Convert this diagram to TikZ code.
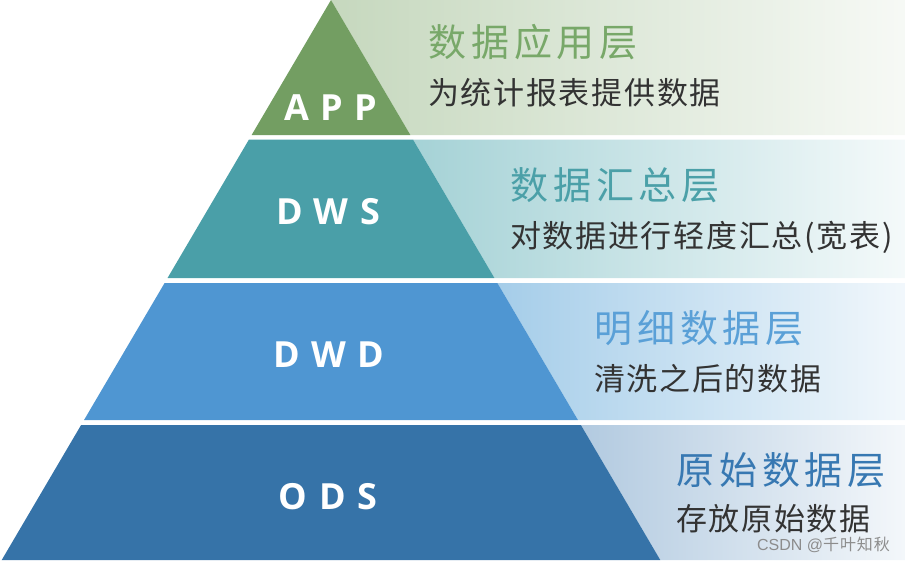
\documentclass[tikz,border=0pt]{standalone}
\usepackage{fontspec}
\newfontfamily\cjk[LetterSpace=5.5]{Noto Sans CJK SC}
\newfontfamily\cjkwide[LetterSpace=13]{Noto Sans CJK SC}
\newfontfamily\labfont[LetterSpace=32]{Open Sans}
\usetikzlibrary{positioning}
\definecolor{appC}{RGB}{115,158,98}
\definecolor{dwsC}{RGB}{74,159,168}
\definecolor{dwdC}{RGB}{79,150,210}
\definecolor{odsC}{RGB}{54,115,168}
\definecolor{appT}{RGB}{120,168,105}
\definecolor{dwsT}{RGB}{75,160,168}
\definecolor{dwdT}{RGB}{90,160,215}
\definecolor{odsT}{RGB}{55,120,178}
\definecolor{appL}{RGB}{198,216,190}
\definecolor{dwsL}{RGB}{165,210,214}
\definecolor{dwdL}{RGB}{165,205,233}
\definecolor{odsL}{RGB}{178,202,224}
\definecolor{textC}{RGB}{51,51,51}
\tikzset{
    title/.style={anchor=west, inner sep=0pt, font=\cjkwide\fontsize{38}{40}\selectfont},
    desc/.style={inner sep=0pt, text=textC, font=\cjk\fontsize{31}{33}\selectfont},
    tag/.style={inner sep=0pt, text=white, font=\labfont\bfseries\fontsize{36}{38}\selectfont},
}
\begin{document}
\begin{tikzpicture}[x=1pt, y=-1pt]
    \useasboundingbox (0,0) rectangle (905,560);

    % colour fades behind the text
    \shade[left color=appL, right color=appL!15] (331,0) -- (905,0) -- (905,135) -- ({331+0.588*135},135) -- cycle;
    \shade[left color=dwsL, right color=dwsL!12] ({331+0.588*139.5},139.5) -- (905,139.5) -- (905,278) -- ({331+0.588*278},278) -- cycle;
    \shade[left color=dwdL, right color=dwdL!15] ({331+0.588*283},283) -- (905,283) -- (905,420) -- ({331+0.588*420},420) -- cycle;
    \shade[left color=odsL, right color=odsL!15] ({331+0.588*425},425) -- (905,425) -- (905,560) -- ({331+0.588*560},560) -- cycle;

    % pyramid
    \fill[appC] (331,0) -- ({331+0.588*135},135) -- ({331-0.588*135},135) -- cycle;
    \fill[dwsC] ({331-0.588*139.5},139.5) -- ({331+0.588*139.5},139.5) -- ({331+0.588*278},278) -- ({331-0.588*278},278) -- cycle;
    \fill[dwdC] ({331-0.588*283},283) -- ({331+0.588*283},283) -- ({331+0.588*420},420) -- ({331-0.588*420},420) -- cycle;
    \fill[odsC] ({331-0.588*425},425) -- ({331+0.588*425},425) -- ({331+0.588*560},560) -- ({331-0.588*560},560) -- cycle;

    \node[tag] (l1) at (331,108) {APP};
    \node[tag] (l2) at (328,212) {DWS};
    \node[tag] (l3) at (329,355) {DWD};
    \node[tag] (l4) at (328,497) {ODS};

    \node[title, text=appT] (t1) at (428,42) {数据应用层};
    \node[desc, below right=18pt and 0pt of t1.south west] (d1) {为统计报表提供数据};

    \node[title, text=dwsT] (t2) at (510,185) {数据汇总层};
    \node[desc, below right=18pt and 0pt of t2.south west] (d2) {对数据进行轻度汇总(宽表)};

    \node[title, text=dwdT] (t3) at (594,328) {明细数据层};
    \node[desc, below right=18pt and 0pt of t3.south west] (d3) {清洗之后的数据};

    \node[title, text=odsT] (t4) at (676,470) {原始数据层};
    \node[desc, below right=16pt and 0pt of t4.south west] (d4) {存放原始数据};

    \node[inner sep=0pt, text=black!45, font=\fontspec{Liberation Sans}\fontsize{16}{18}\selectfont, anchor=east] (wm) at (890,545) {CSDN @{\cjk 千叶知秋}};
\end{tikzpicture}
\end{document}
